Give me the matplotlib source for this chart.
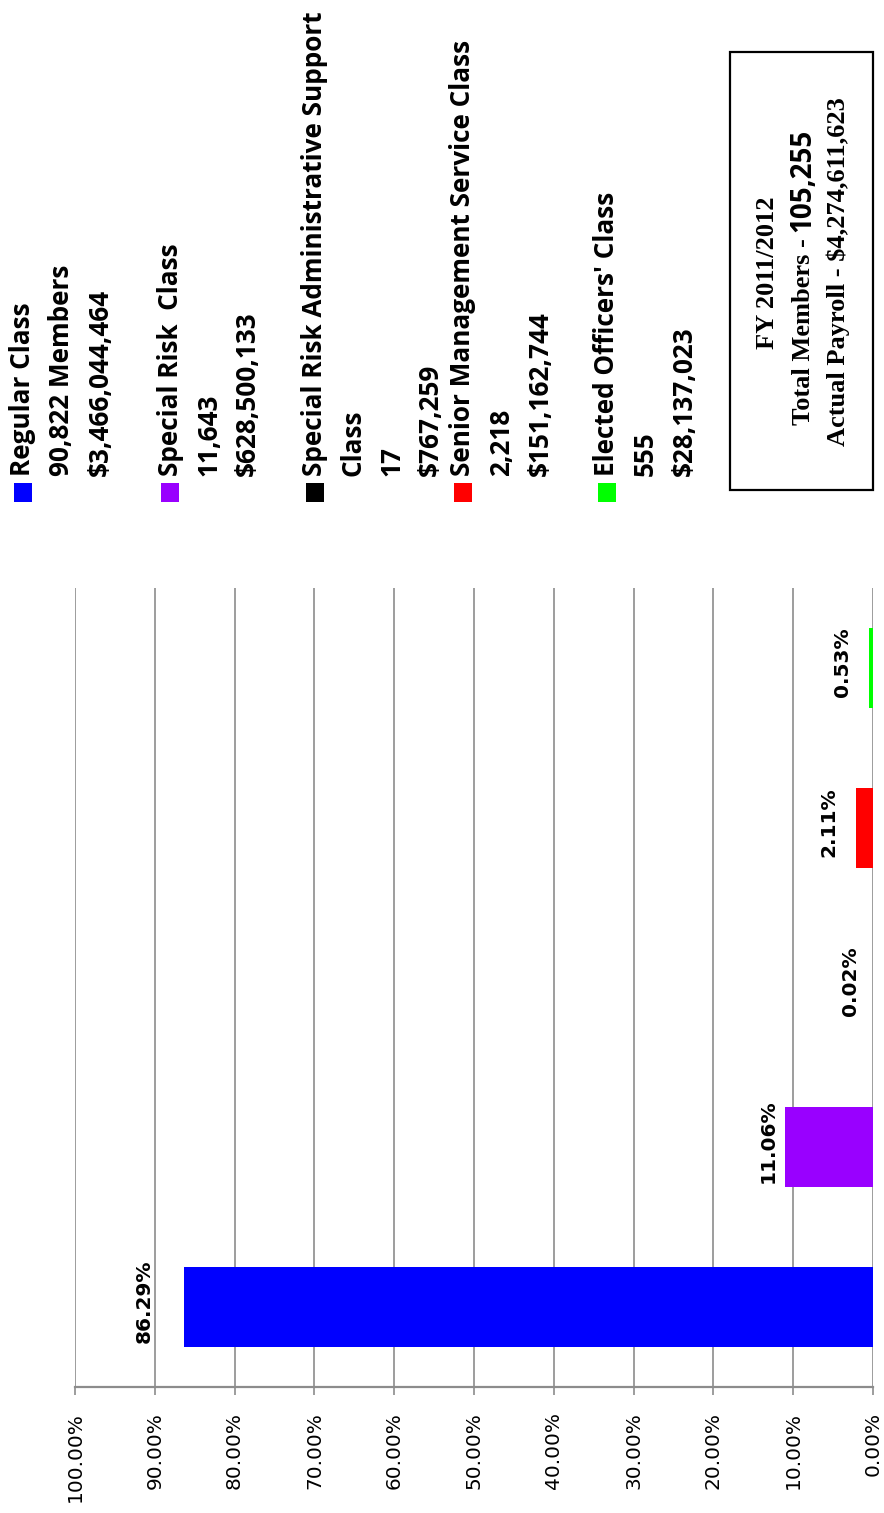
import matplotlib
matplotlib.use('Agg')
import matplotlib.pyplot as plt
from matplotlib.patches import Rectangle

plt.rcParams['text.parse_math'] = False

# membership share by class, FY 2011/2012
classes = ['Regular Class', 'Special Risk  Class',
           'Special Risk Administrative Support\nClass',
           'Senior Management Service Class', "Elected Officers' Class"]
members = ['90,822 Members', '11,643', '17', '2,218', '555']
payroll = ['$3,466,044,464', '$628,500,133', '$767,259', '$151,162,744', '$28,137,023']
share = [86.29, 11.06, 0.02, 2.11, 0.53]
colors = ['#0000ff', '#9900ff', '#000000', '#ff0000', '#00ff00']
ticks = [0, 10, 20, 30, 40, 50, 60, 70, 80, 90, 100]

fiscal_year = 'FY 2011/2012'
total_members = '105,255'
total_payroll = '$4,274,611,623'

W, H = 884, 1513
fig = plt.figure(figsize=(W / 100, H / 100), dpi=100)


def fx(px):
    return px / W


def fy(py):
    return 1 - py / H


grid_gray = '#8c8c8c'

# the chart is laid out turned on its side: values run right to left
ax = fig.add_axes([fx(75), fy(1387), (873 - 75) / W, (1387 - 588) / H])
pos = range(len(share))
ax.barh(pos, share, height=0.5, color=colors, zorder=3)
ax.set_xlim(100, 0)
ax.set_ylim(-0.5, len(share) - 0.5)
ax.set_xticks(ticks)
ax.set_xticklabels([f'{t:.2f}%' for t in ticks])
ax.set_yticks([])
ax.grid(axis='x', color=grid_gray, lw=1.2, zorder=0)
for side in ['left', 'right', 'top']:
    ax.spines[side].set_visible(False)
ax.spines['bottom'].set_color(grid_gray)
ax.spines['bottom'].set_linewidth(1.6)
ax.tick_params(axis='x', length=6, width=1.2, color=grid_gray, pad=12,
               labelsize=14.5, labelrotation=90)

# value labels sit past the end of each bar
label_gap = [31, 7, 13, 18, 17]
for i, v in enumerate(share):
    ax.annotate(f'{v:.2f}%', xy=(v, i), xytext=(-label_gap[i], 6),
                textcoords='offset pixels', rotation=90, ha='right', va='center',
                fontsize=14.5, fontweight='bold', family='DejaVu Sans')

# legend, one column of lines per class
entry_x = [23, 170, 315, 463, 607]
step = 38.5
for k in range(len(classes)):
    lines = classes[k].split('\n') + [members[k], payroll[k]]
    for j, line in enumerate(lines):
        fig.text(fx(entry_x[k] + j * step), fy(476), line, rotation=90,
                 ha='center', va='bottom', fontsize=18.8, fontweight='bold',
                 family='Open Sans')
    fig.add_artist(Rectangle((fx(entry_x[k] - 9), fy(502)), 18 / W, 19 / H,
                             transform=fig.transFigure, color=colors[k], lw=0))

# totals box
fig.add_artist(Rectangle((fx(730), fy(490)), (873 - 730) / W, (490 - 52) / H,
                         transform=fig.transFigure, fill=False, ec='black', lw=1.6))
serif = dict(rotation=90, fontsize=19, fontweight='bold', family='Liberation Serif')
fig.text(fx(767), fy(273), fiscal_year, ha='center', va='center', **serif)
t2 = fig.text(fx(803), fy(425), 'Total Members - ', ha='center', va='bottom', **serif)
ax.annotate(total_members, xy=(0.5, 1.0), xycoords=t2, ha='center', va='bottom',
            rotation=90, fontsize=20, fontweight='bold', family='Open Sans',
            annotation_clip=False)
fig.text(fx(838), fy(272), 'Actual Payroll - ' + total_payroll,
         ha='center', va='center', **serif)

fig.savefig('out.png', dpi=100)
